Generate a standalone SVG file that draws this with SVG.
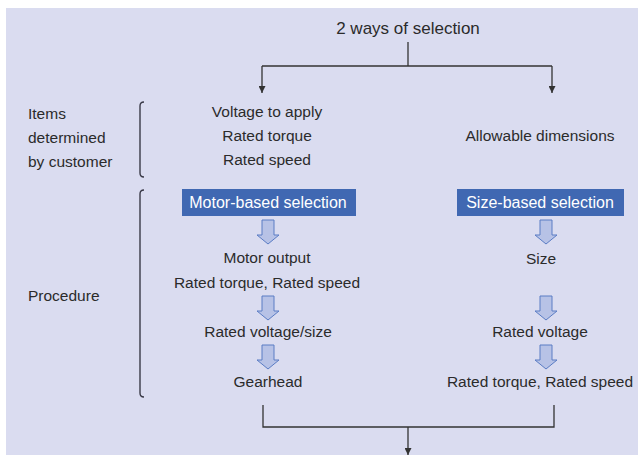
<svg xmlns="http://www.w3.org/2000/svg" xmlns:xlink="http://www.w3.org/1999/xlink" width="639" height="456" viewBox="0 0 639 456">
  <style>
    text { font-family: "Liberation Sans", Arial, sans-serif; fill: #2b2b2b; font-size: 15.5px; }
    .c { text-anchor: middle; }
    .lbl { font-size: 15.5px; }
    .title { font-size: 17px; }
    .box { fill: #4068b2; }
    .boxtxt { fill: #ffffff; font-size: 16px; text-anchor: middle; }
    .line { fill: none; stroke: #333333; stroke-width: 1.3; }
    .brk { fill: none; stroke: #3a3a48; stroke-width: 1.4; }
    .blk { fill: #b7c2e6; stroke: #5a7cc4; stroke-width: 1; }
  </style>
  <defs>
    <marker id="ah" viewBox="0 0 10 10" refX="10" refY="5" markerWidth="8" markerHeight="7" markerUnits="userSpaceOnUse" orient="auto">
      <path d="M0,0 L10,5 L0,10 Z" fill="#333333"/>
    </marker>
    <path id="blockArrow" class="blk" d="M-6,0 H6 V15 H11 L0,24 L-11,15 H-6 Z"/>
  </defs>

  <!-- panel -->
  <rect x="6" y="8" width="632" height="447" fill="#dadcf0"/>

  <!-- title -->
  <g id="title">
    <text class="title c" x="408" y="34">2 ways of selection</text>
  </g>

  <!-- row labels with brackets -->
  <g id="label-items">
    <text class="lbl" x="28" y="119">Items</text>
    <text class="lbl" x="28" y="143">determined</text>
    <text class="lbl" x="28" y="167">by customer</text>
    <path class="brk" d="M144,102 Q140,102 140,106 V173 Q140,177 144,177"/>
  </g>
  <g id="label-procedure">
    <text class="lbl" x="28" y="301">Procedure</text>
    <path class="brk" d="M144,190 Q140,190 140,194 V393 Q140,397 144,397"/>
  </g>

  <!-- customer inputs -->
  <g id="inputs-motor">
    <text class="c" x="267" y="117">Voltage to apply</text>
    <text class="c" x="267" y="141">Rated torque</text>
    <text class="c" x="267" y="165">Rated speed</text>
  </g>
  <g id="inputs-size">
    <text class="c" x="540" y="141">Allowable dimensions</text>
  </g>

  <!-- motor-based procedure -->
  <g id="motor-based">
    <rect class="box" x="182" y="189" width="174" height="27"/>
    <text class="boxtxt" x="268" y="208">Motor-based selection</text>
  </g>
  <g id="motor-output">
    <text class="c" x="267" y="263">Motor output</text>
    <text class="c" x="267" y="288">Rated torque, Rated speed</text>
  </g>
  <g id="rated-voltage-size">
    <text class="c" x="268" y="337">Rated voltage/size</text>
  </g>
  <g id="gearhead">
    <text class="c" x="268" y="387">Gearhead</text>
  </g>

  <!-- size-based procedure -->
  <g id="size-based">
    <rect class="box" x="457" y="189" width="167" height="27"/>
    <text class="boxtxt" x="540" y="208">Size-based selection</text>
  </g>
  <g id="size">
    <text class="c" x="541" y="264">Size</text>
  </g>
  <g id="rated-voltage">
    <text class="c" x="540" y="337">Rated voltage</text>
  </g>
  <g id="rated-torque-speed">
    <text class="c" x="540" y="387">Rated torque, Rated speed</text>
  </g>

  <!-- connectors -->
  <g id="connectors">
    <path class="line" d="M408,42 V66"/>
    <path class="line" d="M262,66 H552"/>
    <path class="line" d="M262,66 V93" marker-end="url(#ah)"/>
    <path class="line" d="M552,66 V93" marker-end="url(#ah)"/>

    <use xlink:href="#blockArrow" x="268" y="220"/>
    <use xlink:href="#blockArrow" x="268" y="296"/>
    <use xlink:href="#blockArrow" x="268" y="345"/>
    <use xlink:href="#blockArrow" x="546" y="220"/>
    <use xlink:href="#blockArrow" x="546" y="296"/>
    <use xlink:href="#blockArrow" x="546" y="345"/>

    <path class="line" d="M263,405 V427 H554 V405"/>
    <path class="line" d="M408,427 V455" marker-end="url(#ah)"/>
  </g>
</svg>
